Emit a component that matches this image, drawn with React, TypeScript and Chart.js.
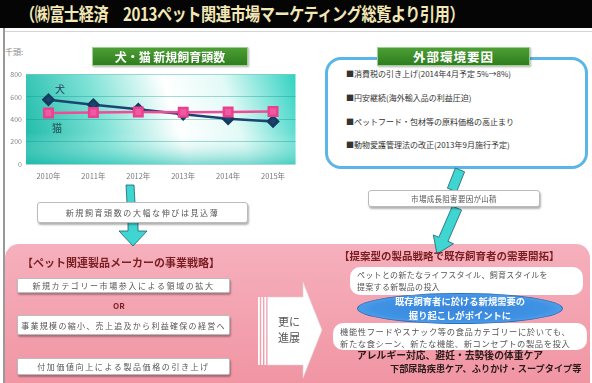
import React, { useEffect, useRef } from 'react';
import { Chart, registerables } from 'chart.js';

Chart.register(...registerables);

const years = ['2010年', '2011年', '2012年', '2013年', '2014年', '2015年'];
const dogValues = [575, 530, 490, 445, 405, 380];
const catValues = [455, 460, 465, 462, 465, 470];
const yMin = 0;
const yMax = 800;
const yStep = 100;

const chartTitle = '犬・猫 新規飼育頭数';
const unitLabel = '千頭:';
const headerText = '（㈱富士経済　2013ペット関連市場マーケティング総覧より引用）';
const envTitle = '外部環境要因';
const envItems = [
  '■消費税の引き上げ(2014年4月予定 5%→8%)',
  '■円安継続(海外輸入品の利益圧迫)',
  '■ペットフード・包材等の原料価格の高止まり',
  '■動物愛護管理法の改正(2013年9月施行予定)',
];

const JP = '"Noto Sans CJK JP", "Noto Sans", sans-serif';

const bgPlugin = {
  id: 'plotBg',
  beforeDraw(chart: any) {
    const { ctx, chartArea: a } = chart;
    if (!a) return;
    ctx.save();
    const g = ctx.createLinearGradient(a.left, a.bottom, a.right, a.top);
    g.addColorStop(0, '#17b8a6');
    g.addColorStop(0.3, '#7fe2d6');
    g.addColorStop(0.55, '#ffffff');
    g.addColorStop(0.75, '#e2faf6');
    g.addColorStop(1, '#30d2c2');
    ctx.fillStyle = g;
    ctx.fillRect(a.left, a.top, a.right - a.left, a.bottom - a.top);
    const v = ctx.createLinearGradient(0, a.top, 0, a.bottom);
    v.addColorStop(0, 'rgba(255,255,255,0)');
    v.addColorStop(0.65, 'rgba(255,255,255,0)');
    v.addColorStop(1, 'rgba(30,190,175,0.55)');
    ctx.fillStyle = v;
    ctx.fillRect(a.left, a.top, a.right - a.left, a.bottom - a.top);
    ctx.restore();
  },
};

function LineChart() {
  const ref = useRef<HTMLCanvasElement>(null);
  useEffect(() => {
    if (!ref.current) return;
    const chart = new Chart(ref.current, {
      type: 'line',
      data: {
        labels: years,
        datasets: [
          {
            label: '犬',
            data: dogValues,
            borderColor: '#1b4570',
            backgroundColor: '#1b4570',
            borderWidth: 2.5,
            pointStyle: 'rectRot',
            pointRadius: 5,
            pointBorderColor: '#163a5e',
            tension: 0,
            order: 2,
          },
          {
            label: '猫',
            data: catValues,
            borderColor: '#ee4c97',
            backgroundColor: '#f05aa2',
            borderWidth: 2.5,
            pointStyle: 'rect',
            pointRadius: 6,
            pointBorderColor: '#e8418f',
            tension: 0,
            order: 1,
          },
        ],
      },
      options: {
        responsive: false,
        animation: false,
        layout: { padding: { top: 7, right: 2, left: 0, bottom: 0 } },
        plugins: { legend: { display: false }, tooltip: { enabled: false } },
        scales: {
          x: {
            offset: true,
            grid: { display: false, drawTicks: false },
            border: { display: false },
            ticks: { color: '#777', font: { size: 7.5, family: JP }, padding: 8, maxRotation: 0 },
            afterFit(s: any) { s.height = 21; },
          },
          y: {
            min: yMin,
            max: yMax,
            ticks: { stepSize: yStep, color: '#888', font: { size: 7, family: JP }, padding: 4 },
            grid: { color: 'rgba(0,150,140,0.35)', drawTicks: false },
            border: { display: false },
            afterFit(s: any) { s.width = 22; },
          },
        },
      },
      plugins: [bgPlugin],
    } as any);
    return () => chart.destroy();
  }, []);
  return <canvas ref={ref} width={300} height={119} style={{ display: 'block' }} />;
}

const abs = (l: number, t: number, w?: number, h?: number): React.CSSProperties => ({
  position: 'absolute', left: l, top: t, width: w, height: h,
});

const whiteBox: React.CSSProperties = {
  background: '#fff',
  border: '1px solid #bbb',
  borderRadius: 3,
  boxShadow: '1px 2px 2px rgba(0,0,0,0.3)',
  display: 'flex',
  alignItems: 'center',
  justifyContent: 'center',
  color: '#555',
  fontSize: 8,
  letterSpacing: 1.6,
  whiteSpace: 'nowrap',
  boxSizing: 'border-box',
};

const greenTitle: React.CSSProperties = {
  background: 'linear-gradient(#4c9e34, #2f7d1f)',
  border: '1px solid #9fd08f',
  boxShadow: '1px 1px 2px rgba(0,0,0,0.3)',
  color: '#fff',
  fontWeight: 700,
  display: 'flex',
  alignItems: 'center',
  justifyContent: 'center',
  whiteSpace: 'nowrap',
  boxSizing: 'border-box',
};

export default function App() {
  return (
    <div style={{ position: 'absolute', left: 0, top: 0, width: 592, height: 383, overflow: 'hidden', background: '#fff', fontFamily: JP }}>
      {/* header */}
      <div style={{ ...abs(0, 0, 592, 28), background: '#050505' }} />
      <div style={{ ...abs(20, 1), color: '#f3e7b6', fontSize: 18, lineHeight: '24px', fontWeight: 700, whiteSpace: 'nowrap', transform: 'scaleX(0.84)', transformOrigin: 'left top', letterSpacing: -0.5 }}>{headerText}</div>
      <div style={{ ...abs(3, 28, 2, 360), background: '#999' }} />
      <div style={{ ...abs(5, 31, 587, 1), background: '#d5d5d5' }} />

      {/* chart */}
      <div style={{ ...abs(5, 46), fontSize: 8, color: '#888' }}>{unitLabel}</div>
      <div style={{ ...abs(4, 66, 300, 119) }}><LineChart /></div>
      <div style={{ ...greenTitle, ...abs(92, 47, 156, 19), fontSize: 12 }}>{chartTitle}</div>
      <div style={{ ...abs(55, 81), fontSize: 10, color: '#2a3a5a' }}>犬</div>
      <div style={{ ...abs(52, 120), fontSize: 10, color: '#2e6e6e', fontWeight: 700 }}>猫</div>

      {/* external factors box */}
      <div style={{ ...abs(325, 57, 263, 112), border: '3px solid #5ab6e6', borderRadius: 16, background: '#fff', boxSizing: 'border-box' }} />
      <div style={{ ...greenTitle, ...abs(377, 47, 153, 19), fontSize: 12.5, letterSpacing: 1 }}>{envTitle}</div>
      {envItems.map((t, i) => (
        <div key={i} style={{ ...abs(346, 68 + i * 23.8), fontSize: 8, color: '#333', whiteSpace: 'nowrap' }}>{t}</div>
      ))}

      {/* pink area */}
      <div style={{ ...abs(5, 244, 585, 160), borderRadius: 14, background: 'linear-gradient(#f6b0bd, #f0919f)' }} />

      {/* arrows */}
      <svg width={592} height={383} style={{ position: 'absolute', left: 0, top: 0 }}>
        <polygon points="126,185 134,185 135,203 127,203" fill="#3fd6d2" stroke="#1d5e6e" strokeWidth={0.8} />
        <polygon points="128,222 138,222 138,231 147,231 133,246 119,231 128,231" fill="#3fd6d2" stroke="#1d5e6e" strokeWidth={0.8} />
        <polygon points="455.4,168 464.6,171.8 456.6,191.8 447.4,188.2" fill="#3fd6d2" stroke="#1d5e6e" strokeWidth={0.8} />
        <polygon points="452.4,206 461.6,210 448,241.3 453.5,243.7 437,254 433.3,234.9 438.8,237.3" fill="#3fd6d2" stroke="#1d5e6e" strokeWidth={0.8} />
        <rect x={258} y={297} width={1.8} height={68} fill="#fff" />
        <rect x={261.2} y={297} width={1.8} height={68} fill="#fff" />
        <rect x={264.4} y={297} width={1.8} height={68} fill="#fff" />
        <polygon points="267.5,297 303,297 303,282 322,330 303,378 303,365 267.5,365" fill="#fff" stroke="#e6d0d4" strokeWidth={0.6} />
      </svg>

      {/* middle boxes */}
      <div style={{ ...whiteBox, ...abs(37, 202, 211, 21) }}>新規飼育頭数の大幅な伸びは見込薄</div>
      <div style={{ ...whiteBox, ...abs(368, 190, 172, 17), letterSpacing: 0.3, fontSize: 7.5 }}>市場成長阻害要因が山積</div>

      {/* left strategy */}
      <div style={{ ...abs(22, 254), fontSize: 11, fontWeight: 700, color: '#7a1e22', whiteSpace: 'nowrap' }}>【ペット関連製品メーカーの事業戦略】</div>
      <div style={{ ...whiteBox, ...abs(17, 278, 213, 15), borderRadius: 2 }}>新規カテゴリー市場参入による領域の拡大</div>
      <div style={{ ...abs(113, 300), fontSize: 8, lineHeight: '12px', fontWeight: 700, color: '#7a1e22' }}>OR</div>
      <div style={{ ...whiteBox, ...abs(17, 315, 213, 20), letterSpacing: 1.3, borderRadius: 2 }}>事業規模の縮小、売上追及から利益確保の経営へ</div>
      <div style={{ ...whiteBox, ...abs(17, 358, 213, 17), borderRadius: 2 }}>付加価値向上による製品価格の引き上げ</div>

      <div style={{ ...abs(278, 313), fontSize: 11, lineHeight: '16px', color: '#555' }}>更に<br />進展</div>

      {/* right strategy */}
      <div style={{ ...abs(339, 248), fontSize: 10.5, fontWeight: 700, color: '#7a1e22', whiteSpace: 'nowrap' }}>【提案型の製品戦略で既存飼育者の需要開拓】</div>
      <div style={{ ...abs(350, 267, 233, 28), background: '#fff', borderRadius: 10, boxSizing: 'border-box', padding: '2px 0 0 7px', fontSize: 8, lineHeight: '12px', color: '#555', letterSpacing: 0.3, whiteSpace: 'nowrap' }}>
        ペットとの新たなライフスタイル、飼育スタイルを<br />提案する新製品の投入
      </div>
      <div style={{ ...abs(333, 323, 254, 27), background: '#fff', borderRadius: 10, boxSizing: 'border-box', padding: '2px 0 0 7px', fontSize: 8.3, lineHeight: '12px', color: '#555', letterSpacing: 0.6, whiteSpace: 'nowrap' }}>
        機能性フードやスナック等の食品カテゴリーに於いても、<br />新たな食シーン、新たな機能、新コンセプトの製品を投入
      </div>
      <div style={{ ...abs(357, 293, 206, 31), borderRadius: '50%', background: 'radial-gradient(ellipse at 50% 50%, #3a86dc 0%, #3f92e4 60%, #78baf2 100%)', border: '1px solid #2d6db8', boxSizing: 'border-box', display: 'flex', flexDirection: 'column', alignItems: 'center', justifyContent: 'center', color: '#fff', fontWeight: 700, fontSize: 9.3, lineHeight: '13.5px', whiteSpace: 'nowrap' }}>
        <span>既存飼育者に於ける新規需要の</span>
        <span>掘り起こしがポイントに</span>
      </div>
      <div style={{ ...abs(357, 348), fontSize: 9.8, lineHeight: '14px', fontWeight: 700, color: '#2a1a1a', whiteSpace: 'nowrap' }}>アレルギー対応、避妊・去勢後の体重ケア</div>
      <div style={{ ...abs(390, 362), fontSize: 9.2, lineHeight: '13px', fontWeight: 700, color: '#2a1a1a', whiteSpace: 'nowrap' }}>下部尿路疾患ケア、ふりかけ・スープタイプ等</div>
    </div>
  );
}
